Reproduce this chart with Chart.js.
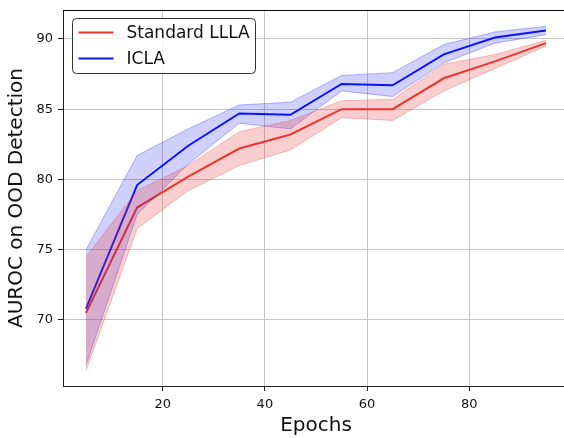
<!DOCTYPE html>
<html>
<head>
<meta charset="utf-8">
<script src="https://cdn.jsdelivr.net/npm/chart.js@4/dist/chart.umd.min.js"></script>
<style>
  html, body { margin: 0; padding: 0; background: #fff; overflow: hidden; }
  #wrap { width: 569px; height: 438px; }
</style>
</head>
<body>
<div id="wrap"><canvas id="auroc"></canvas></div>
<script>
// epochs and AUROC (mean + band edges)
const epochs = [5, 15, 25, 35, 45, 55, 65, 75, 85, 95];

const lllaMean  = [70.5, 78.0, 80.2, 82.2, 83.2, 85.0, 85.0, 87.2, 88.4, 89.7];
const lllaUpper = [74.5, 79.2, 81.0, 83.4, 84.2, 85.6, 85.7, 88.2, 88.9, 89.9];
const lllaLower = [66.4, 76.5, 79.2, 81.0, 82.1, 84.4, 84.2, 86.3, 87.9, 89.5];

const iclaMean  = [70.8, 79.6, 82.4, 84.7, 84.6, 86.8, 86.7, 88.9, 90.1, 90.6];
const iclaUpper = [75.0, 81.7, 83.6, 85.3, 85.5, 87.4, 87.6, 89.6, 90.5, 90.9];
const iclaLower = [66.8, 77.5, 81.1, 84.0, 83.6, 86.3, 85.9, 88.3, 89.7, 90.3];

const xTicks = [20, 40, 60, 80];
const yTicks = [70, 75, 80, 85, 90];

const RED = 'rgb(236, 52, 40)';
const RED_FILL = 'rgba(232, 60, 60, 0.25)';
const RED_EDGE = 'rgba(232, 60, 60, 0.3)';
const BLUE = 'rgb(10, 20, 245)';
const BLUE_FILL = 'rgba(20, 20, 240, 0.2)';
const BLUE_EDGE = 'rgba(20, 20, 240, 0.3)';

function pts(ys) { return epochs.map((x, i) => ({x: x, y: ys[i]})); }

// legend box + top spine, drawn over the plot
const legendBox = {
    id: 'legendBox',
    afterDraw(chart) {
        const ctx = chart.ctx;
        const a = chart.chartArea;
        ctx.save();
        ctx.strokeStyle = '#000';
        ctx.lineWidth = 1;
        ctx.beginPath();
        ctx.moveTo(a.left, a.top + 0.5);
        ctx.lineTo(a.right, a.top + 0.5);
        ctx.stroke();

        const x = a.left + 9.5, y = a.top + 8.5, w = 183, h = 55, r = 4;
        ctx.fillStyle = 'rgba(255,255,255,0.85)';
        ctx.strokeStyle = '#333';
        ctx.beginPath();
        ctx.roundRect(x, y, w, h, r);
        ctx.fill();
        ctx.stroke();

        const items = [['Standard LLLA', RED], ['ICLA', BLUE]];
        ctx.font = '17px "DejaVu Sans"';
        ctx.textBaseline = 'middle';
        items.forEach((it, i) => {
            const cy = y + 14 + i * 26;
            ctx.strokeStyle = it[1];
            ctx.lineWidth = 2;
            ctx.beginPath();
            ctx.moveTo(x + 6, cy);
            ctx.lineTo(x + 41, cy);
            ctx.stroke();
            ctx.fillStyle = '#111';
            ctx.fillText(it[0], x + 54, cy + 1);
        });
        ctx.restore();
    }
};

const ctx = document.getElementById('auroc');
new Chart(ctx, {
    type: 'line',
    data: {
        datasets: [
            { data: pts(lllaLower), borderColor: RED_EDGE, borderWidth: 1, pointRadius: 0, fill: false, tension: 0 },
            { data: pts(lllaUpper), borderColor: RED_EDGE, borderWidth: 1, pointRadius: 0, fill: '-1', backgroundColor: RED_FILL, tension: 0 },
            { data: pts(iclaLower), borderColor: BLUE_EDGE, borderWidth: 1, pointRadius: 0, fill: false, tension: 0 },
            { data: pts(iclaUpper), borderColor: BLUE_EDGE, borderWidth: 1, pointRadius: 0, fill: '-1', backgroundColor: BLUE_FILL, tension: 0 },
            { label: 'Standard LLLA', data: pts(lllaMean), borderColor: RED, borderWidth: 2, pointRadius: 0, fill: false, tension: 0 },
            { label: 'ICLA', data: pts(iclaMean), borderColor: BLUE, borderWidth: 2, pointRadius: 0, fill: false, tension: 0 }
        ]
    },
    options: {
        responsive: true,
        maintainAspectRatio: false,
        animation: false,
        layout: { padding: { top: 10, left: 0, right: 0, bottom: 0 } },
        plugins: {
            legend: { display: false },
            tooltip: { enabled: false }
        },
        scales: {
            x: {
                type: 'linear',
                min: 0.5,
                max: 99.5,
                afterBuildTicks: s => { s.ticks = xTicks.map(v => ({value: v})); },
                afterFit: s => { s.height = 52; s.paddingLeft = 0; s.paddingRight = 0; },
                grid: { color: '#c4c4c4', lineWidth: 1, tickLength: 5, tickColor: '#222' },
                border: { color: '#222', width: 1 },
                ticks: { color: '#111', font: { family: 'DejaVu Sans', size: 13 }, padding: 6, maxRotation: 0 },
                title: { display: true, text: 'Epochs', color: '#111', font: { family: 'DejaVu Sans', size: 20 }, padding: { top: 0, bottom: 0 } }
            },
            y: {
                min: 65.3,
                max: 92.06,
                afterBuildTicks: s => { s.ticks = yTicks.map(v => ({value: v})); },
                afterFit: s => { s.width = 63; s.paddingTop = 0; s.paddingBottom = 0; },
                grid: { color: '#c4c4c4', lineWidth: 1, tickLength: 5, tickColor: '#222' },
                border: { color: '#222', width: 1 },
                ticks: { color: '#111', font: { family: 'DejaVu Sans', size: 13 }, padding: 5 },
                title: { display: true, text: 'AUROC on OOD Detection', color: '#111', font: { family: 'DejaVu Sans', size: 20 }, padding: { top: 5, bottom: 0 } }
            }
        }
    },
    plugins: [legendBox]
});
</script>
</body>
</html>
